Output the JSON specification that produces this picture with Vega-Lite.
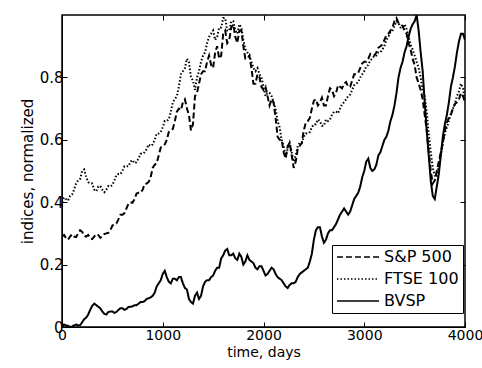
{
  "$schema": "https://vega.github.io/schema/vega-lite/v6.json",
  "width": 403,
  "height": 312,
  "autosize": {"type": "none"},
  "padding": {"left": 62, "top": 15, "right": 17, "bottom": 41},
  "background": "white",
  "config": {
    "view": {"stroke": "black", "strokeWidth": 1.5},
    "font": "DejaVu Sans",
    "axis": {"labelColor": "black", "titleColor": "black", "domainColor": "black", "tickColor": "black", "grid": false, "titleFontWeight": "normal"}
  },
  "data": {"values": [
    {"d":0,"sp":0.29,"ft":0.40,"bv":0.0},
    {"d":20,"sp":0.295,"ft":0.415,"bv":0.008},
    {"d":40,"sp":0.285,"ft":0.41,"bv":0.005},
    {"d":60,"sp":0.28,"ft":0.405,"bv":0.004},
    {"d":80,"sp":0.29,"ft":0.42,"bv":0.0},
    {"d":100,"sp":0.297,"ft":0.425,"bv":0.002},
    {"d":120,"sp":0.29,"ft":0.44,"bv":0.005},
    {"d":140,"sp":0.288,"ft":0.46,"bv":0.008},
    {"d":160,"sp":0.30,"ft":0.47,"bv":0.005},
    {"d":180,"sp":0.31,"ft":0.475,"bv":0.006},
    {"d":200,"sp":0.305,"ft":0.50,"bv":0.015},
    {"d":220,"sp":0.292,"ft":0.505,"bv":0.025},
    {"d":240,"sp":0.29,"ft":0.48,"bv":0.03},
    {"d":260,"sp":0.295,"ft":0.465,"bv":0.04},
    {"d":280,"sp":0.285,"ft":0.46,"bv":0.055},
    {"d":300,"sp":0.282,"ft":0.46,"bv":0.068},
    {"d":320,"sp":0.29,"ft":0.44,"bv":0.075},
    {"d":340,"sp":0.298,"ft":0.435,"bv":0.07},
    {"d":360,"sp":0.295,"ft":0.45,"bv":0.065},
    {"d":380,"sp":0.286,"ft":0.452,"bv":0.06},
    {"d":400,"sp":0.29,"ft":0.44,"bv":0.05},
    {"d":420,"sp":0.298,"ft":0.432,"bv":0.042},
    {"d":440,"sp":0.30,"ft":0.44,"bv":0.04},
    {"d":460,"sp":0.302,"ft":0.452,"bv":0.048},
    {"d":480,"sp":0.31,"ft":0.45,"bv":0.05},
    {"d":500,"sp":0.325,"ft":0.455,"bv":0.05},
    {"d":520,"sp":0.33,"ft":0.47,"bv":0.045},
    {"d":540,"sp":0.332,"ft":0.487,"bv":0.048},
    {"d":560,"sp":0.345,"ft":0.49,"bv":0.055},
    {"d":580,"sp":0.36,"ft":0.49,"bv":0.06},
    {"d":600,"sp":0.36,"ft":0.50,"bv":0.06},
    {"d":620,"sp":0.365,"ft":0.515,"bv":0.055},
    {"d":640,"sp":0.38,"ft":0.515,"bv":0.058},
    {"d":660,"sp":0.395,"ft":0.515,"bv":0.064},
    {"d":680,"sp":0.40,"ft":0.53,"bv":0.065},
    {"d":700,"sp":0.398,"ft":0.535,"bv":0.066},
    {"d":720,"sp":0.41,"ft":0.525,"bv":0.07},
    {"d":740,"sp":0.428,"ft":0.528,"bv":0.07},
    {"d":760,"sp":0.43,"ft":0.54,"bv":0.075},
    {"d":780,"sp":0.43,"ft":0.555,"bv":0.08},
    {"d":800,"sp":0.44,"ft":0.555,"bv":0.08},
    {"d":820,"sp":0.458,"ft":0.56,"bv":0.083},
    {"d":840,"sp":0.46,"ft":0.57,"bv":0.09},
    {"d":860,"sp":0.465,"ft":0.585,"bv":0.092},
    {"d":880,"sp":0.48,"ft":0.58,"bv":0.095},
    {"d":900,"sp":0.51,"ft":0.585,"bv":0.10},
    {"d":920,"sp":0.52,"ft":0.60,"bv":0.11},
    {"d":940,"sp":0.525,"ft":0.62,"bv":0.13},
    {"d":960,"sp":0.55,"ft":0.62,"bv":0.14},
    {"d":980,"sp":0.575,"ft":0.625,"bv":0.15},
    {"d":1000,"sp":0.58,"ft":0.64,"bv":0.17},
    {"d":1020,"sp":0.585,"ft":0.66,"bv":0.18},
    {"d":1040,"sp":0.60,"ft":0.66,"bv":0.16},
    {"d":1060,"sp":0.625,"ft":0.665,"bv":0.145},
    {"d":1080,"sp":0.63,"ft":0.69,"bv":0.14},
    {"d":1100,"sp":0.635,"ft":0.72,"bv":0.155},
    {"d":1120,"sp":0.66,"ft":0.73,"bv":0.155},
    {"d":1140,"sp":0.69,"ft":0.74,"bv":0.15},
    {"d":1160,"sp":0.70,"ft":0.77,"bv":0.16},
    {"d":1180,"sp":0.695,"ft":0.81,"bv":0.16},
    {"d":1200,"sp":0.72,"ft":0.82,"bv":0.14},
    {"d":1220,"sp":0.73,"ft":0.83,"bv":0.125},
    {"d":1240,"sp":0.70,"ft":0.86,"bv":0.12},
    {"d":1260,"sp":0.68,"ft":0.85,"bv":0.09},
    {"d":1280,"sp":0.63,"ft":0.80,"bv":0.08},
    {"d":1300,"sp":0.65,"ft":0.79,"bv":0.075},
    {"d":1320,"sp":0.74,"ft":0.76,"bv":0.10},
    {"d":1340,"sp":0.75,"ft":0.80,"bv":0.11},
    {"d":1360,"sp":0.78,"ft":0.82,"bv":0.09},
    {"d":1380,"sp":0.81,"ft":0.85,"bv":0.10},
    {"d":1400,"sp":0.82,"ft":0.87,"bv":0.13},
    {"d":1420,"sp":0.82,"ft":0.88,"bv":0.145},
    {"d":1440,"sp":0.85,"ft":0.91,"bv":0.15},
    {"d":1460,"sp":0.87,"ft":0.93,"bv":0.15},
    {"d":1480,"sp":0.84,"ft":0.94,"bv":0.16},
    {"d":1500,"sp":0.83,"ft":0.95,"bv":0.165},
    {"d":1520,"sp":0.88,"ft":0.92,"bv":0.18},
    {"d":1540,"sp":0.90,"ft":0.93,"bv":0.19},
    {"d":1560,"sp":0.86,"ft":0.96,"bv":0.19},
    {"d":1580,"sp":0.87,"ft":0.96,"bv":0.22},
    {"d":1600,"sp":0.94,"ft":0.99,"bv":0.23},
    {"d":1620,"sp":0.95,"ft":0.99,"bv":0.245},
    {"d":1640,"sp":0.91,"ft":0.95,"bv":0.25},
    {"d":1660,"sp":0.92,"ft":0.95,"bv":0.23},
    {"d":1680,"sp":0.96,"ft":0.98,"bv":0.23},
    {"d":1700,"sp":0.97,"ft":0.98,"bv":0.235},
    {"d":1720,"sp":0.93,"ft":0.95,"bv":0.22},
    {"d":1740,"sp":0.91,"ft":0.94,"bv":0.215},
    {"d":1760,"sp":0.95,"ft":0.97,"bv":0.235},
    {"d":1780,"sp":0.95,"ft":0.96,"bv":0.225},
    {"d":1800,"sp":0.90,"ft":0.92,"bv":0.20},
    {"d":1820,"sp":0.86,"ft":0.89,"bv":0.21},
    {"d":1840,"sp":0.86,"ft":0.88,"bv":0.23},
    {"d":1860,"sp":0.87,"ft":0.87,"bv":0.215},
    {"d":1880,"sp":0.83,"ft":0.85,"bv":0.21},
    {"d":1900,"sp":0.78,"ft":0.83,"bv":0.205},
    {"d":1920,"sp":0.78,"ft":0.82,"bv":0.19},
    {"d":1940,"sp":0.81,"ft":0.83,"bv":0.185},
    {"d":1960,"sp":0.80,"ft":0.81,"bv":0.195},
    {"d":1980,"sp":0.77,"ft":0.80,"bv":0.195},
    {"d":2000,"sp":0.76,"ft":0.77,"bv":0.18},
    {"d":2020,"sp":0.77,"ft":0.74,"bv":0.165},
    {"d":2040,"sp":0.74,"ft":0.75,"bv":0.17},
    {"d":2060,"sp":0.71,"ft":0.75,"bv":0.18},
    {"d":2080,"sp":0.73,"ft":0.74,"bv":0.19},
    {"d":2100,"sp":0.72,"ft":0.72,"bv":0.185},
    {"d":2120,"sp":0.67,"ft":0.70,"bv":0.17},
    {"d":2140,"sp":0.61,"ft":0.66,"bv":0.16},
    {"d":2160,"sp":0.60,"ft":0.64,"bv":0.155},
    {"d":2180,"sp":0.60,"ft":0.60,"bv":0.15},
    {"d":2200,"sp":0.56,"ft":0.58,"bv":0.14},
    {"d":2220,"sp":0.54,"ft":0.55,"bv":0.13},
    {"d":2240,"sp":0.58,"ft":0.57,"bv":0.125},
    {"d":2260,"sp":0.59,"ft":0.59,"bv":0.135},
    {"d":2280,"sp":0.55,"ft":0.56,"bv":0.14},
    {"d":2300,"sp":0.51,"ft":0.53,"bv":0.14},
    {"d":2320,"sp":0.53,"ft":0.55,"bv":0.145},
    {"d":2340,"sp":0.57,"ft":0.58,"bv":0.16},
    {"d":2360,"sp":0.58,"ft":0.59,"bv":0.17},
    {"d":2380,"sp":0.59,"ft":0.59,"bv":0.175},
    {"d":2400,"sp":0.63,"ft":0.61,"bv":0.18},
    {"d":2420,"sp":0.655,"ft":0.62,"bv":0.185},
    {"d":2440,"sp":0.66,"ft":0.62,"bv":0.19},
    {"d":2460,"sp":0.67,"ft":0.625,"bv":0.21},
    {"d":2480,"sp":0.70,"ft":0.64,"bv":0.235},
    {"d":2500,"sp":0.725,"ft":0.65,"bv":0.28},
    {"d":2520,"sp":0.73,"ft":0.65,"bv":0.31},
    {"d":2540,"sp":0.71,"ft":0.665,"bv":0.32},
    {"d":2560,"sp":0.72,"ft":0.66,"bv":0.32},
    {"d":2580,"sp":0.735,"ft":0.645,"bv":0.29},
    {"d":2600,"sp":0.71,"ft":0.645,"bv":0.27},
    {"d":2620,"sp":0.71,"ft":0.665,"bv":0.28},
    {"d":2640,"sp":0.74,"ft":0.66,"bv":0.30},
    {"d":2660,"sp":0.765,"ft":0.665,"bv":0.31},
    {"d":2680,"sp":0.76,"ft":0.68,"bv":0.31},
    {"d":2700,"sp":0.74,"ft":0.69,"bv":0.32},
    {"d":2720,"sp":0.75,"ft":0.69,"bv":0.33},
    {"d":2740,"sp":0.775,"ft":0.685,"bv":0.345},
    {"d":2760,"sp":0.77,"ft":0.70,"bv":0.36},
    {"d":2780,"sp":0.765,"ft":0.715,"bv":0.37},
    {"d":2800,"sp":0.78,"ft":0.72,"bv":0.38},
    {"d":2820,"sp":0.785,"ft":0.73,"bv":0.37},
    {"d":2840,"sp":0.77,"ft":0.74,"bv":0.36},
    {"d":2860,"sp":0.77,"ft":0.745,"bv":0.37},
    {"d":2880,"sp":0.79,"ft":0.76,"bv":0.39},
    {"d":2900,"sp":0.81,"ft":0.775,"bv":0.41},
    {"d":2920,"sp":0.81,"ft":0.78,"bv":0.42},
    {"d":2940,"sp":0.815,"ft":0.785,"bv":0.43},
    {"d":2960,"sp":0.83,"ft":0.80,"bv":0.45},
    {"d":2980,"sp":0.845,"ft":0.81,"bv":0.48},
    {"d":3000,"sp":0.85,"ft":0.82,"bv":0.50},
    {"d":3020,"sp":0.85,"ft":0.835,"bv":0.53},
    {"d":3040,"sp":0.86,"ft":0.84,"bv":0.54},
    {"d":3060,"sp":0.875,"ft":0.855,"bv":0.51},
    {"d":3080,"sp":0.87,"ft":0.86,"bv":0.50},
    {"d":3100,"sp":0.87,"ft":0.87,"bv":0.505},
    {"d":3120,"sp":0.88,"ft":0.87,"bv":0.52},
    {"d":3140,"sp":0.895,"ft":0.88,"bv":0.55},
    {"d":3160,"sp":0.90,"ft":0.88,"bv":0.56},
    {"d":3180,"sp":0.905,"ft":0.89,"bv":0.58},
    {"d":3200,"sp":0.92,"ft":0.90,"bv":0.60},
    {"d":3220,"sp":0.935,"ft":0.92,"bv":0.61},
    {"d":3240,"sp":0.94,"ft":0.93,"bv":0.63},
    {"d":3260,"sp":0.95,"ft":0.945,"bv":0.66},
    {"d":3280,"sp":0.96,"ft":0.95,"bv":0.68},
    {"d":3300,"sp":0.98,"ft":0.965,"bv":0.71},
    {"d":3320,"sp":0.99,"ft":0.98,"bv":0.75},
    {"d":3340,"sp":0.975,"ft":0.975,"bv":0.80},
    {"d":3360,"sp":0.97,"ft":0.96,"bv":0.83},
    {"d":3380,"sp":0.965,"ft":0.96,"bv":0.85},
    {"d":3400,"sp":0.95,"ft":0.97,"bv":0.88},
    {"d":3420,"sp":0.94,"ft":0.955,"bv":0.90},
    {"d":3440,"sp":0.91,"ft":0.93,"bv":0.93},
    {"d":3460,"sp":0.89,"ft":0.905,"bv":0.955},
    {"d":3480,"sp":0.86,"ft":0.89,"bv":0.97},
    {"d":3500,"sp":0.84,"ft":0.87,"bv":0.98},
    {"d":3520,"sp":0.80,"ft":0.85,"bv":1.0},
    {"d":3540,"sp":0.78,"ft":0.83,"bv":0.95},
    {"d":3560,"sp":0.76,"ft":0.80,"bv":0.88},
    {"d":3580,"sp":0.73,"ft":0.76,"bv":0.82},
    {"d":3600,"sp":0.68,"ft":0.74,"bv":0.72},
    {"d":3620,"sp":0.63,"ft":0.69,"bv":0.63},
    {"d":3640,"sp":0.56,"ft":0.62,"bv":0.55},
    {"d":3660,"sp":0.50,"ft":0.56,"bv":0.47},
    {"d":3680,"sp":0.46,"ft":0.51,"bv":0.42},
    {"d":3700,"sp":0.47,"ft":0.485,"bv":0.41},
    {"d":3720,"sp":0.50,"ft":0.48,"bv":0.45},
    {"d":3740,"sp":0.53,"ft":0.52,"bv":0.49},
    {"d":3760,"sp":0.56,"ft":0.55,"bv":0.55},
    {"d":3780,"sp":0.59,"ft":0.59,"bv":0.61},
    {"d":3800,"sp":0.63,"ft":0.62,"bv":0.65},
    {"d":3820,"sp":0.655,"ft":0.64,"bv":0.68},
    {"d":3840,"sp":0.67,"ft":0.66,"bv":0.72},
    {"d":3860,"sp":0.68,"ft":0.685,"bv":0.77},
    {"d":3880,"sp":0.70,"ft":0.70,"bv":0.80},
    {"d":3900,"sp":0.715,"ft":0.715,"bv":0.835},
    {"d":3920,"sp":0.72,"ft":0.74,"bv":0.88},
    {"d":3940,"sp":0.73,"ft":0.755,"bv":0.915},
    {"d":3960,"sp":0.75,"ft":0.78,"bv":0.94},
    {"d":3980,"sp":0.74,"ft":0.765,"bv":0.94},
    {"d":4000,"sp":0.72,"ft":0.72,"bv":0.92}
  ]},
  "transform": [
    {"fold": ["sp", "ft", "bv"], "as": ["key", "value"]},
    {"lookup": "key", "from": {"data": {"values": [
      {"key": "sp", "series": "S&P 500"},
      {"key": "ft", "series": "FTSE 100"},
      {"key": "bv", "series": "BVSP"}
    ]}, "key": "key", "fields": ["series"]}}
  ],
  "layer": [
    {
      "mark": {"type": "line", "color": "black", "strokeWidth": 2, "clip": true},
      "encoding": {
        "x": {"field": "d", "type": "quantitative", "title": "time, days",
          "scale": {"domain": [0, 4000], "nice": false},
          "axis": {"values": [0, 1000, 2000, 3000, 4000], "format": "d", "tickSize": -5, "labelFontSize": 14, "titleFontSize": 14, "labelPadding": 6, "titlePadding": 3, "labelFlush": false}},
        "y": {"field": "value", "type": "quantitative", "title": "indices, normalized",
          "scale": {"domain": [0, 1], "nice": false},
          "axis": {"values": [0, 0.2, 0.4, 0.6, 0.8], "labelExpr": "datum.value == 0 ? '0' : format(datum.value, '.1f')", "tickSize": -5, "labelFontSize": 15, "titleFontSize": 15, "labelPadding": 4, "titlePadding": 4, "labelFlush": false}},
        "strokeDash": {"field": "series", "type": "nominal",
          "scale": {"domain": ["S&P 500", "FTSE 100", "BVSP"], "range": [[6, 3], [1.5, 2], [1, 0]]},
          "legend": {"title": null, "orient": "none", "legendX": 270, "legendY": 230, "symbolType": "M-1,0H5", "symbolSize": 196, "symbolStrokeWidth": 1.5, "symbolStrokeColor": "black", "labelFontSize": 16, "labelColor": "black", "strokeColor": "black", "fillColor": "white", "padding": 4, "rowPadding": 6, "labelOffset": 32}}
      }
    },
    {
      "mark": {"type": "line", "opacity": 0},
      "encoding": {
        "x": {"field": "d", "type": "quantitative",
          "axis": {"orient": "top", "values": [0, 1000, 2000, 3000, 4000], "tickSize": -5, "labels": false, "title": null, "domain": false}},
        "y": {"field": "value", "type": "quantitative",
          "axis": {"orient": "right", "values": [0, 0.2, 0.4, 0.6, 0.8], "tickSize": -5, "labels": false, "title": null, "domain": false}}
      }
    }
  ],
  "resolve": {"axis": {"x": "independent", "y": "independent"}}
}
